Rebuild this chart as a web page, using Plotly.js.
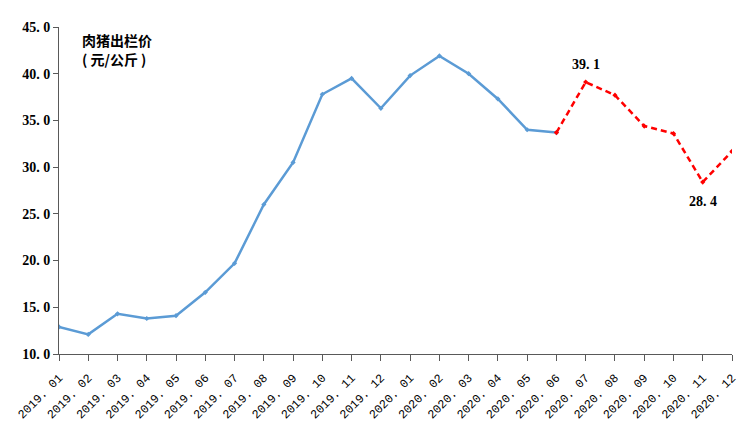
<!DOCTYPE html>
<html><head><meta charset="utf-8">
<script src="https://cdn.plot.ly/plotly-3.0.1.min.js"></script>
<style>body{margin:0;background:#fff}#c{width:750px;height:439px}</style>
</head><body><div id="c"></div>
<script>
const months = ["2019.01","2019.02","2019.03","2019.04","2019.05","2019.06","2019.07","2019.08","2019.09","2019.10","2019.11","2019.12",
"2020.01","2020.02","2020.03","2020.04","2020.05","2020.06","2020.07","2020.08","2020.09","2020.10","2020.11","2020.12"];
const actualMonths = months.slice(0,18);
const actualPrice = [12.9,12.1,14.3,13.8,14.1,16.6,19.7,26.0,30.5,37.8,39.5,36.3,39.8,41.9,40.0,37.3,34.0,33.7];
const forecastMonths = months.slice(17);
const forecastPrice = [33.7,39.1,37.7,34.4,33.6,28.4,31.7];
const tickLabels = months.map(m => m.replace(".", ". "));
const yTicks = [10,15,20,25,30,35,40,45];
const peakIdx = 18, lowIdx = 22;

const serif = "Liberation Serif, serif";
const traces = [
 {x:actualMonths, y:actualPrice, type:"scatter", mode:"lines+markers",
  line:{color:"#5B9BD5", width:2.5}, marker:{color:"#5B9BD5", size:4, symbol:"diamond"}},
 {x:forecastMonths, y:forecastPrice, type:"scatter", mode:"lines+markers",
  line:{color:"#FF0000", width:2.5, dash:"6px,4px"}, marker:{color:"#FF0000", size:4, symbol:"diamond"}}
];
const layout = {
 width:750, height:439, showlegend:false,
 paper_bgcolor:"#fff", plot_bgcolor:"#fff",
 margin:{l:59, r:18, t:27, b:85},
 font:{family:serif, size:13, color:"#000"},
 xaxis:{type:"category", categoryorder:"array", categoryarray:months, range:[0,23],
   tickvals:months, ticktext:tickLabels, tickangle:-45, ticklabelstandoff:5,
   showline:true, linecolor:"#595959", linewidth:1, ticks:"outside", ticklen:6, tickcolor:"#595959",
   showgrid:false, zeroline:false, tickfont:{family:"Liberation Mono, monospace", size:12, color:"#000"}},
 yaxis:{range:[10,45], tickvals:yTicks, ticktext:yTicks.map(v=>v.toFixed(1).replace(".", ". ")),
   showline:true, linecolor:"#595959", linewidth:1, ticks:"outside", ticklen:5, tickcolor:"#595959",
   showgrid:false, zeroline:false, tickfont:{family:serif, size:14, color:"#000", weight:"bold"}},
 annotations:[
  {xref:"paper", yref:"paper", x:0.031, y:0.96, xanchor:"left", yanchor:"middle", showarrow:false,
   text:"肉猪出栏价", font:{family:"Noto Sans CJK SC", size:14, color:"#000", weight:"bold"}},
  {xref:"paper", yref:"paper", x:0.031, y:0.902, xanchor:"left", yanchor:"middle", showarrow:false,
   text:"( 元/公斤 )", font:{family:"Noto Sans CJK SC", size:14, color:"#000", weight:"bold"}},
  {x:peakIdx, y:forecastPrice[1], text:forecastPrice[1].toFixed(1).replace(".", ". "), showarrow:false, yshift:18,
   font:{family:serif, size:14, color:"#000", weight:"bold"}},
  {x:lowIdx, y:forecastPrice[5], text:forecastPrice[5].toFixed(1).replace(".", ". "), showarrow:false, yshift:-19,
   font:{family:serif, size:14, color:"#000", weight:"bold"}}
 ]
};
Plotly.newPlot("c", traces, layout, {displayModeBar:false, staticPlot:true});
</script></body></html>
